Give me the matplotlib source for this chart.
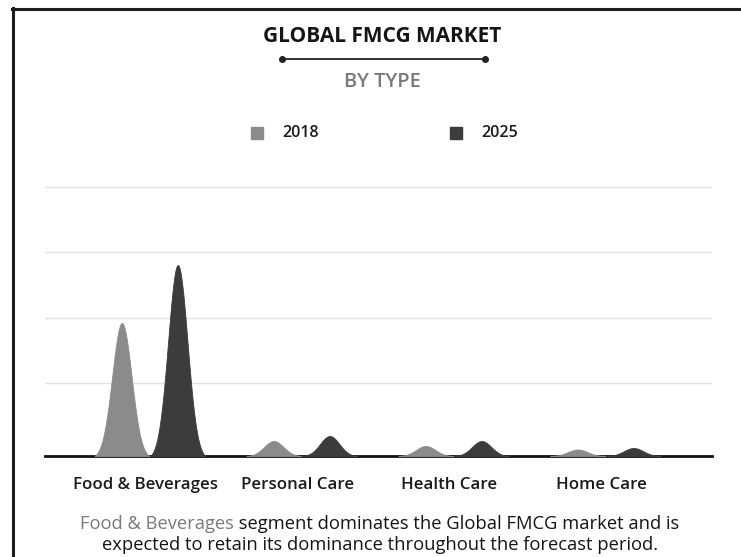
import numpy as np
import matplotlib.pyplot as plt
from matplotlib.lines import Line2D

plt.rcParams['font.family'] = ['Open Sans', 'DejaVu Sans']

categories = ['Food & Beverages', 'Personal Care', 'Health Care', 'Home Care']
years = ['2018', '2025']
val_2018 = [133, 15, 10, 6.5]
val_2025 = [191, 20, 15, 8]
grid_vals = [73, 138, 204, 269]

colors = {'2018': '#8b8b8b', '2025': '#3c3c3c'}


def peak(ax, xc, h, color, half=0.18):
    # bell-shaped spike, zero at both ends
    t = np.linspace(-1, 1, 201)
    g = np.exp(-(t / 0.5) ** 2)
    g1 = np.exp(-4.0)
    y = h * (g - g1) / (1 - g1)
    ax.fill_between(xc + t * half, 0, y, color=color, lw=0.6, edgecolor=color, zorder=3)


fig = plt.figure(figsize=(7.41, 5.57), dpi=100)
ax = fig.add_axes([45 / 741, 101 / 557, 667 / 741, 290 / 557])

x = np.arange(len(categories))
off = 0.184
for i in x:
    peak(ax, i - off, val_2018[i], colors['2018'])
    peak(ax, i + off, val_2025[i], colors['2025'])

ax.set_xlim(-0.69, 3.70)
ax.set_ylim(0, 290)
ax.set_yticks(grid_vals)
ax.yaxis.grid(True, color='#e2e2e2', lw=1)
ax.set_axisbelow(True)
ax.tick_params(axis='y', left=False, labelleft=False)
ax.set_xticks(x - 0.03)
ax.set_xticklabels(categories, fontsize=12.2, fontweight='semibold', color='#1a1a1a')
ax.tick_params(axis='x', length=0, pad=15)
for s in ['top', 'right', 'left']:
    ax.spines[s].set_visible(False)
ax.spines['bottom'].set_linewidth(2)
ax.spines['bottom'].set_color('#111111')

# title block
fig.text(382 / 741, 1 - 36 / 557, 'GLOBAL FMCG MARKET', ha='center', va='center',
         fontsize=15, fontweight='bold', color='#151515')
fig.add_artist(Line2D([282 / 741, 485 / 741], [1 - 59 / 557] * 2, color='#222222', lw=1.3,
                      marker='o', markersize=4, markevery=[0, 1], transform=fig.transFigure))
fig.text(382 / 741, 1 - 82 / 557, 'BY TYPE', ha='center', va='center',
         fontsize=14.5, fontweight='semibold', color='#7a7a7a')

# legend
for yr, sx, tx in [('2018', 257, 282), ('2025', 456, 481)]:
    fig.add_artist(Line2D([sx / 741], [1 - 133 / 557], marker='s', markersize=9, lw=0,
                          color=colors[yr], transform=fig.transFigure))
    fig.text(tx / 741, 1 - 133 / 557, yr, ha='left', va='center', fontsize=11.5,
             fontweight='semibold', color='#1a1a1a')

# caption
line1a = 'Food & Beverages'
line1b = ' segment dominates the Global FMCG market and is'
line2 = 'expected to retain its dominance throughout the forecast period.'
cap_size = 13.2
fig.canvas.draw()
r = fig.canvas.get_renderer()
ta = fig.text(0, 0, line1a, fontsize=cap_size)
tb = fig.text(0, 0, line1b, fontsize=cap_size)
wa = ta.get_window_extent(r).width
wb = tb.get_window_extent(r).width
left = 380 - (wa + wb) / 2
ta.set_position((left / 741, 1 - 524 / 557))
ta.set_va('center')
ta.set_color('#7a7a7a')
tb.set_position(((left + wa) / 741, 1 - 524 / 557))
tb.set_va('center')
tb.set_color('#151515')
fig.text(380 / 741, 1 - 545 / 557, line2, ha='center', va='center', fontsize=cap_size,
         color='#151515')

# frame lines
fig.add_artist(Line2D([12 / 741, 1], [1 - 9 / 557] * 2, color='#1e1e1e', lw=2.2,
                      transform=fig.transFigure))
fig.add_artist(Line2D([12.5 / 741] * 2, [0, 1 - 8 / 557], color='#1e1e1e', lw=2.2,
                      transform=fig.transFigure))

fig.savefig('out.png', dpi=100)
